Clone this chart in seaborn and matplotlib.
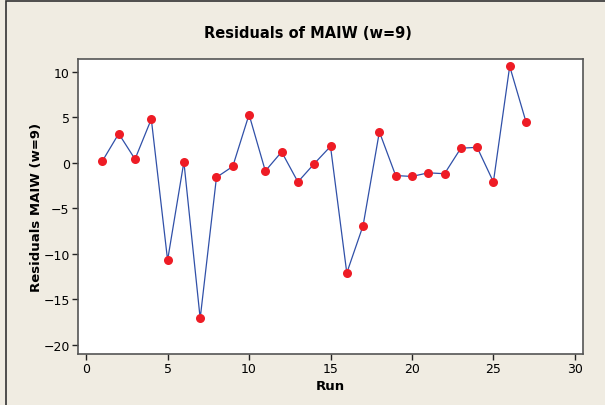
import matplotlib
matplotlib.use("Agg")
import matplotlib.pyplot as plt
import seaborn as sns
import pandas as pd
from matplotlib.patches import Rectangle

runs = list(range(1, 28))
residuals = [0.2, 3.2, 0.4, 4.8, -10.7, 0.1, -17.1, -1.6, -0.4, 5.3,
             -0.9, 1.2, -2.1, -0.1, 1.8, -12.1, -6.9, 3.4, -1.4, -1.5,
             -1.1, -1.2, 1.6, 1.7, -2.1, 10.6, 4.5]
xticks = [0, 5, 10, 15, 20, 25, 30]
yticks = [10, 5, 0, -5, -10, -15, -20]
title = "Residuals of MAIW (w=9)"
xlabel = "Run"
ylabel = "Residuals MAIW (w=9)"

df = pd.DataFrame({"Run": runs, "Resid": residuals})

sns.set_style("white")
plt.rcParams['font.family'] = ['DejaVu Sans']
plt.rcParams['text.color'] = 'black'
plt.rcParams['axes.labelcolor'] = 'black'
plt.rcParams['xtick.color'] = 'black'
plt.rcParams['ytick.color'] = 'black'

bg = '#f0ece2'
fig = plt.figure(figsize=(6.05, 4.06), dpi=100, facecolor=bg)
ax = fig.add_axes([78/605, 1-355/406, (583-78)/605, (355-60)/406])
ax.set_facecolor('white')

sns.lineplot(data=df, x="Run", y="Resid", ax=ax, color='#3050a8', linewidth=0.9,
             marker='o', markersize=6.5, markerfacecolor='#ee1c25',
             markeredgecolor='#ee1c25', markeredgewidth=0)

ax.set_xlim(-0.5, 30.5)
ax.set_ylim(-21.0, 11.4)
ax.set_xticks(xticks)
ax.set_yticks(yticks)
ax.tick_params(axis='both', direction='out', length=4, width=1, color='#222222',
               labelsize=9, pad=2, bottom=True, left=True)
for s in ax.spines.values():
    s.set_color('#555555')
    s.set_linewidth(1.2)

ax.set_xlabel(xlabel, fontsize=9.5, fontweight='bold', labelpad=3)
ax.set_ylabel(ylabel, fontsize=9.5, fontweight='bold', labelpad=0)
fig.text(308/605, 1-33/406, title, ha='center', va='center',
         fontsize=10.5, fontweight='bold', color='black')

fig.patches.append(Rectangle((6/605, -0.1), 1.2, 1-2/406+0.1, transform=fig.transFigure,
                             fill=False, edgecolor='#333333', linewidth=1.2, zorder=0))

fig.savefig("out.png", dpi=100, facecolor=bg)
